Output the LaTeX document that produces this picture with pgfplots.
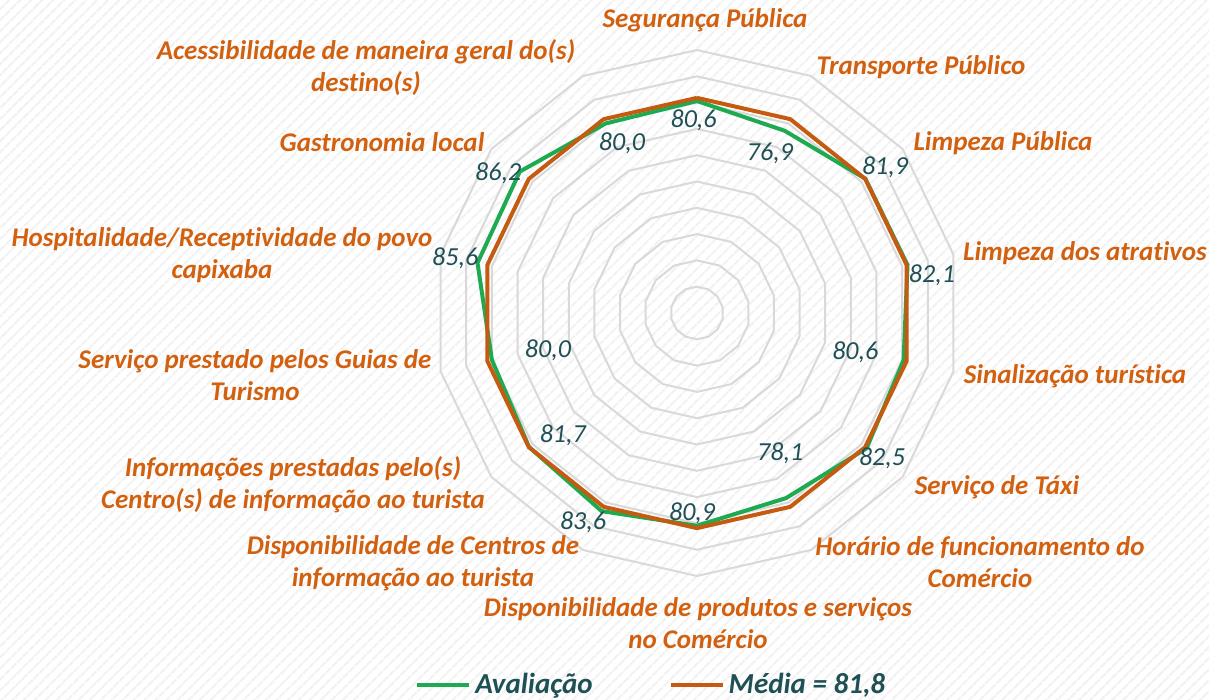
\documentclass[border=0pt]{standalone}
\usepackage{fontspec}
\setmainfont{Carlito}[Ligatures=NoCommon]
\usepackage{pgfplots}
\pgfplotsset{compat=1.18}
\usepgfplotslibrary{polar}
\usetikzlibrary{patterns.meta}
\definecolor{evalgreen}{HTML}{1DAA50}
\definecolor{avgorange}{HTML}{C55A11}
\definecolor{catorange}{HTML}{D2600F}
\definecolor{valteal}{HTML}{1E5055}
\definecolor{ringgray}{HTML}{D9D9D9}

\begin{document}
\begin{tikzpicture}
\useasboundingbox (-348.5pt,-193.5pt) rectangle (256pt,156.5pt);
\fill[white] (-348.5pt,-193.5pt) rectangle (256pt,156.5pt);
\fill[pattern={Lines[angle=45,distance=4pt,line width=1.2pt]},pattern color=black!5]
  (-348.5pt,-193.5pt) rectangle (256pt,156.5pt);

\begin{polaraxis}[
    at={(0,0)}, anchor=center,
    scale only axis, width=263pt, height=263pt,
    xmin=0, xmax=360, ymin=0, ymax=100,
    hide axis, clip=false,
    legend columns=2,
    legend style={at={(axis description cs:0.415,-0.207)}, anchor=center,
      draw=none, fill=none, text=valteal,
      font=\bfseries\itshape\fontsize{14.5}{17}\selectfont,
      /tikz/every even column/.append style={column sep=36pt}},
    legend image code/.code={\draw[#1] (0pt,0pt) -- (26pt,0pt);},
  ]
  % polygon grid rings
  \pgfplotsinvokeforeach{10,20,...,100}{
    \addplot[ringgray, line width=1pt, forget plot] coordinates {
      (90,#1) (64.29,#1) (38.57,#1) (12.86,#1) (347.14,#1) (321.43,#1) (295.71,#1)
      (270,#1) (244.29,#1) (218.57,#1) (192.86,#1) (167.14,#1) (141.43,#1) (115.71,#1) (90,#1)
    };
  }

  \addplot[evalgreen, line width=2pt] coordinates {
    (90,80.6) (64.29,76.9) (38.57,81.9) (12.86,82.1) (347.14,80.6) (321.43,82.5) (295.71,78.1)
    (270,80.9) (244.29,83.6) (218.57,81.7) (192.86,80.0) (167.14,85.6) (141.43,86.2) (115.71,80.0) (90,80.6)
  };
  \addlegendentry{Avaliação}

  \addplot[avgorange, line width=2pt] coordinates {
    (90,81.8) (64.29,81.8) (38.57,81.8) (12.86,81.8) (347.14,81.8) (321.43,81.8) (295.71,81.8)
    (270,81.8) (244.29,81.8) (218.57,81.8) (192.86,81.8) (167.14,81.8) (141.43,81.8) (115.71,81.8) (90,81.8)
  };
  \addlegendentry{Média = 81,8}

  % value labels
  \begin{scope}[every node/.style={text=valteal, font=\itshape\fontsize{13}{15}\selectfont}]
    \node at (axis cs:91,73.4) {80,6};
    \node at (axis cs:65.5,66.9) {76,9};
    \node at (axis cs:37.8,90.5) {81,9};
    \node at (axis cs:9.2,90.5) {82,1};
    \node at (axis cs:346.1,62) {80,6};
    \node at (axis cs:321.9,89.4) {82,5};
    \node at (axis cs:300.7,62) {78,1};
    \node at (axis cs:268.6,76) {80,9};
    \node at (axis cs:241.4,90.5) {83,6};
    \node at (axis cs:222.3,69) {81,7};
    \node at (axis cs:194,58.4) {80,0};
    \node at (axis cs:167.2,94.3) {85,6};
    \node at (axis cs:145,92.3) {86,2};
    \node at (axis cs:113.8,70.7) {80,0};
  \end{scope}
\end{polaraxis}

% category labels
\begin{scope}[every node/.style={text=catorange, align=center,
    font=\bfseries\itshape\fontsize{13.5}{16}\selectfont}]
  \node at (4pt,146.5pt) {Segurança Pública};
  \node at (112pt,123pt) {Transporte Público};
  \node at (153pt,85pt) {Limpeza Pública};
  \node at (194pt,30pt) {Limpeza dos atrativos};
  \node at (189pt,-31.5pt) {Sinalização turística};
  \node at (150pt,-87pt) {Serviço de Táxi};
  \node at (141.5pt,-124.5pt) {Horário de funcionamento do\\Comércio};
  \node at (0.5pt,-155pt) {Disponibilidade de produtos e serviços\\no Comércio};
  \node at (-142pt,-125pt) {Disponibilidade de Centros de\\informação ao turista};
  \node at (-202pt,-86pt) {Informações prestadas pelo(s)\\Centro(s) de informação ao turista};
  \node at (-221pt,-31pt) {Serviço prestado pelos Guias de\\Turismo};
  \node at (-237.5pt,29pt) {Hospitalidade/Receptividade do povo\\capixaba};
  \node at (-157.5pt,85.5pt) {Gastronomia local};
  \node at (-165.5pt,122.5pt) {Acessibilidade de maneira geral do(s)\\destino(s)};
\end{scope}
\end{tikzpicture}
\end{document}
